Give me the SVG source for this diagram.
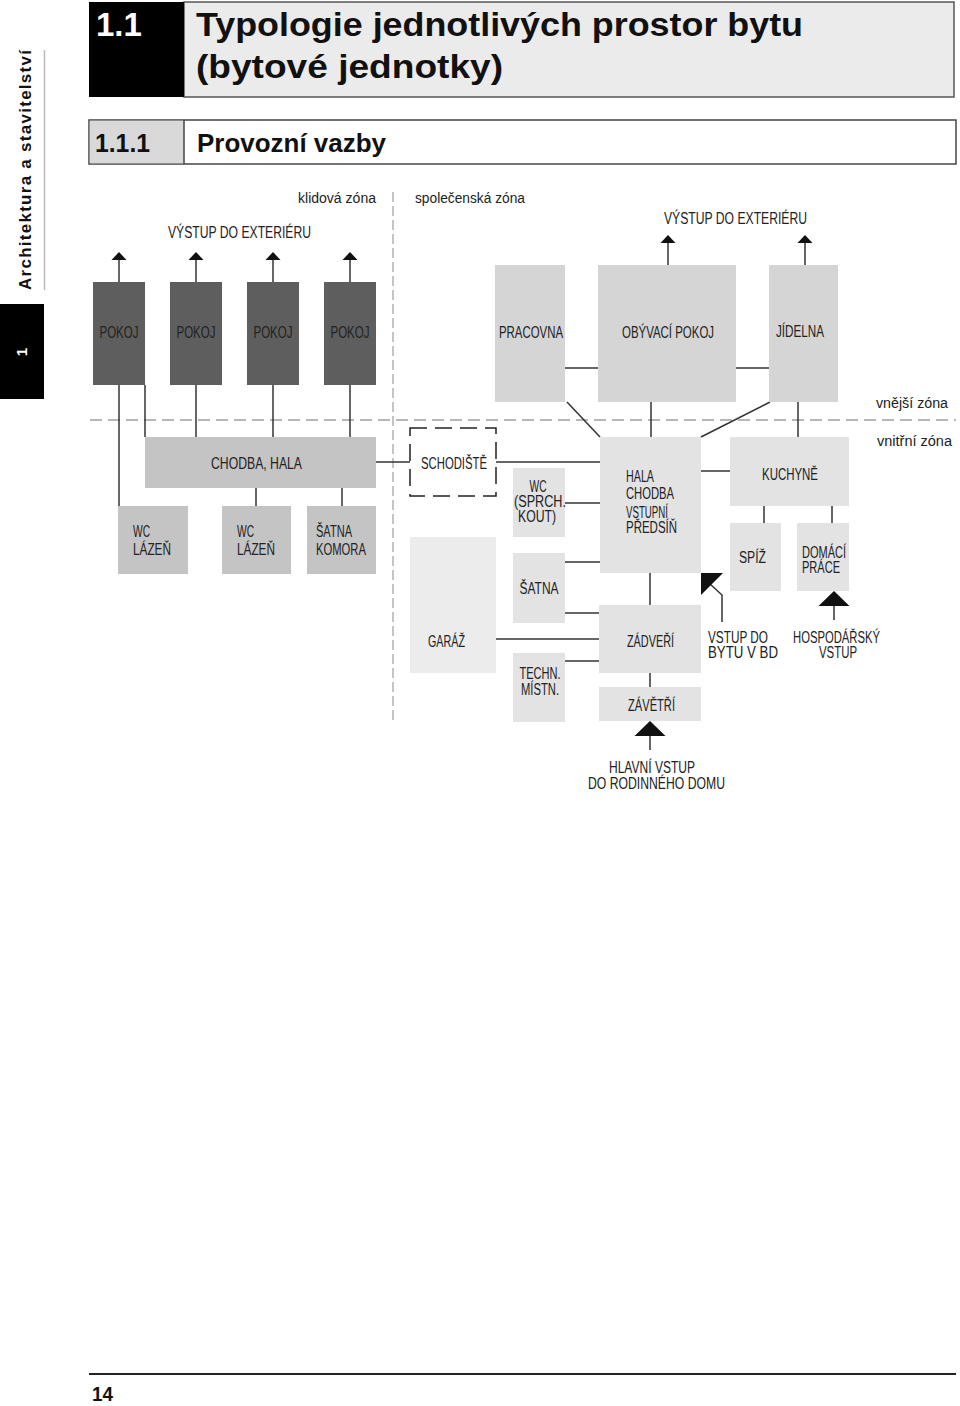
<svg xmlns="http://www.w3.org/2000/svg" width="960" height="1406" viewBox="0 0 960 1406">
<style>
.lb{font-family:"Liberation Sans Narrow","Liberation Sans",Arial,sans-serif;font-size:16px;fill:#222}
.zn{font-family:"Liberation Sans","DejaVu Sans",sans-serif;font-size:14px;fill:#222}
.ct{text-anchor:middle}
.dk{fill:#5e5e5e}
.md{fill:#c4c4c4}
.lt{fill:#d5d5d5}
.vl{fill:#e3e3e3}
.xl{fill:#ececec}
.cn{fill:none;stroke:#333;stroke-width:1.5}
.hd{font-family:"Liberation Sans",Arial,sans-serif;font-weight:bold;fill:#111}
</style>
<defs>
<marker id="ah" markerUnits="userSpaceOnUse" viewBox="0 -8 9 16" markerWidth="9" markerHeight="16" refX="0" refY="0" orient="auto">
<path d="M0,-7.5 L8,0 L0,7.5 Z" fill="#111"/>
</marker>
<marker id="ahb" markerUnits="userSpaceOnUse" viewBox="0 -16 16 32" markerWidth="16" markerHeight="32" refX="0" refY="0" orient="auto">
<path d="M0,-15.5 L15,0 L0,15.5 Z" fill="#111"/>
</marker>
</defs>
<rect width="960" height="1406" fill="#fff"/>

<g id="header">
<rect x="184" y="2" width="770" height="95" fill="#ebebeb" stroke="#555" stroke-width="1.5"/>
<rect x="89" y="2" width="95" height="95" fill="#000"/>
<text x="96" y="36" class="hd" font-size="33" style="fill:#fff">1.1</text>
<text x="196" y="36" class="hd" font-size="33" textLength="607" lengthAdjust="spacingAndGlyphs">Typologie jednotlivých prostor bytu</text>
<text x="196" y="78" class="hd" font-size="33" textLength="307" lengthAdjust="spacingAndGlyphs">(bytové jednotky)</text>
<rect x="89" y="120" width="867" height="44" fill="#fff" stroke="#444" stroke-width="1.5"/>
<rect x="89.75" y="120.75" width="94.25" height="42.5" fill="#d9d9d9"/>
<line x1="184" y1="120" x2="184" y2="164" stroke="#444" stroke-width="1.5"/>
<text x="95" y="152" class="hd" font-size="26" textLength="55" lengthAdjust="spacingAndGlyphs">1.1.1</text>
<text x="197" y="152" class="hd" font-size="26" textLength="189" lengthAdjust="spacingAndGlyphs">Provozní vazby</text>
</g>

<g id="sidebar">
<line x1="44.5" y1="50" x2="44.5" y2="290" stroke="#bbb" stroke-width="1.5"/>
<text transform="translate(31,290) rotate(-90)" class="hd" font-size="17" textLength="240" lengthAdjust="spacing">Architektura a stavitelství</text>
<rect x="0" y="304" width="44" height="95" fill="#000"/>
<text transform="translate(27,352) rotate(-90)" class="hd ct" font-size="15" style="fill:#fff">1</text>
</g>

<g id="zones">
<line x1="90" y1="420" x2="956" y2="420" stroke="#a0a0a0" stroke-width="1.6" stroke-dasharray="12 6"/>
<line x1="393" y1="192" x2="393" y2="723" stroke="#8a8a8a" stroke-width="1" stroke-dasharray="10 4"/>
<text x="298" y="203" class="zn" textLength="78" lengthAdjust="spacingAndGlyphs">klidová  zóna</text>
<text x="415" y="203" class="zn" textLength="110" lengthAdjust="spacingAndGlyphs">společenská  zóna</text>
<text x="876" y="408" class="zn" textLength="72" lengthAdjust="spacingAndGlyphs">vnější  zóna</text>
<text x="877" y="446" class="zn" textLength="75" lengthAdjust="spacingAndGlyphs">vnitřní  zóna</text>
</g>

<g id="connectors">
<path class="cn" d="M119,282 V260" marker-end="url(#ah)"/>
<path class="cn" d="M196,282 V260" marker-end="url(#ah)"/>
<path class="cn" d="M273,282 V260" marker-end="url(#ah)"/>
<path class="cn" d="M350,282 V260" marker-end="url(#ah)"/>
<path class="cn" d="M668,265 V243" marker-end="url(#ah)"/>
<path class="cn" d="M805,265 V243" marker-end="url(#ah)"/>
<path class="cn" d="M119,385 V506"/>
<path class="cn" d="M145,385 V437"/>
<path class="cn" d="M196,385 V437"/>
<path class="cn" d="M273,385 V437"/>
<path class="cn" d="M350,385 V437"/>
<path class="cn" d="M256,488 V506"/>
<path class="cn" d="M342,488 V506"/>
<path class="cn" d="M376,462 H410"/>
<path class="cn" d="M496,462 H600"/>
<path class="cn" d="M565,503 H600"/>
<path class="cn" d="M565,562 H600"/>
<path class="cn" d="M565,613 H599"/>
<path class="cn" d="M496,639 H599"/>
<path class="cn" d="M565,661 H599"/>
<path class="cn" d="M650,573 V605"/>
<path class="cn" d="M650,673 V687"/>
<path class="cn" d="M650,750 V736" marker-end="url(#ahb)"/>
<path class="cn" d="M565,368 H598"/>
<path class="cn" d="M736,368 H769"/>
<path class="cn" d="M567,402 L600,437"/>
<path class="cn" d="M651,402 V437"/>
<path class="cn" d="M770,402 L701,437"/>
<path class="cn" d="M798,402 V437"/>
<path class="cn" d="M701,471 H730"/>
<path class="cn" d="M764,506 V523"/>
<path class="cn" d="M832,506 V523"/>
<path class="cn" d="M834,620 V606" marker-end="url(#ahb)"/>
<path class="cn" d="M722,622 V595 L710,584"/>
<polygon points="701,573 723,573 701,595" fill="#111"/>
<text x="168" y="238" class="lb" textLength="143" lengthAdjust="spacingAndGlyphs">VÝSTUP  DO  EXTERIÉRU</text>
<text x="664" y="224" class="lb" textLength="143" lengthAdjust="spacingAndGlyphs">VÝSTUP  DO  EXTERIÉRU</text>
<text x="609" y="773" class="lb" textLength="86" lengthAdjust="spacingAndGlyphs">HLAVNÍ  VSTUP</text>
<text x="588" y="789" class="lb" textLength="137" lengthAdjust="spacingAndGlyphs">DO  RODINNÉHO  DOMU</text>
<text x="708" y="643" class="lb" textLength="60" lengthAdjust="spacingAndGlyphs">VSTUP  DO</text>
<text x="708" y="658" class="lb" textLength="70" lengthAdjust="spacingAndGlyphs">BYTU  V  BD</text>
<text x="793" y="643" class="lb" textLength="87" lengthAdjust="spacingAndGlyphs">HOSPODÁŘSKÝ</text>
<text x="838" y="658" class="lb ct" textLength="38" lengthAdjust="spacingAndGlyphs">VSTUP</text>
</g>

<g id="pokoj1"><rect class="dk" x="93" y="282" width="52" height="103"/><text x="119" y="338" class="lb ct" textLength="39" lengthAdjust="spacingAndGlyphs">POKOJ</text></g>
<g id="pokoj2"><rect class="dk" x="170" y="282" width="52" height="103"/><text x="196" y="338" class="lb ct" textLength="39" lengthAdjust="spacingAndGlyphs">POKOJ</text></g>
<g id="pokoj3"><rect class="dk" x="247" y="282" width="52" height="103"/><text x="273" y="338" class="lb ct" textLength="39" lengthAdjust="spacingAndGlyphs">POKOJ</text></g>
<g id="pokoj4"><rect class="dk" x="324" y="282" width="52" height="103"/><text x="350" y="338" class="lb ct" textLength="39" lengthAdjust="spacingAndGlyphs">POKOJ</text></g>

<g id="pracovna"><rect class="lt" x="495" y="265" width="70" height="137"/><text x="531" y="338" class="lb ct" textLength="64" lengthAdjust="spacingAndGlyphs">PRACOVNA</text></g>
<g id="obyvaci"><rect class="lt" x="598" y="265" width="138" height="137"/><text x="668" y="338" class="lb ct" textLength="92" lengthAdjust="spacingAndGlyphs">OBÝVACÍ  POKOJ</text></g>
<g id="jidelna"><rect class="lt" x="769" y="265" width="69" height="137"/><text x="800" y="337" class="lb ct" textLength="48" lengthAdjust="spacingAndGlyphs">JÍDELNA</text></g>

<g id="chodba"><rect class="md" x="145" y="437" width="231" height="51"/><text x="211" y="469" class="lb" textLength="91" lengthAdjust="spacingAndGlyphs">CHODBA,  HALA</text></g>
<g id="wc1"><rect class="md" x="118" y="506" width="70" height="68"/><text x="133" y="537" class="lb" textLength="17" lengthAdjust="spacingAndGlyphs">WC</text><text x="133" y="555" class="lb" textLength="38" lengthAdjust="spacingAndGlyphs">LÁZEŇ</text></g>
<g id="wc2"><rect class="md" x="222" y="506" width="69" height="68"/><text x="237" y="537" class="lb" textLength="17" lengthAdjust="spacingAndGlyphs">WC</text><text x="237" y="555" class="lb" textLength="38" lengthAdjust="spacingAndGlyphs">LÁZEŇ</text></g>
<g id="satna-komora"><rect class="md" x="307" y="506" width="69" height="68"/><text x="316" y="537" class="lb" textLength="36" lengthAdjust="spacingAndGlyphs">ŠATNA</text><text x="316" y="555" class="lb" textLength="50" lengthAdjust="spacingAndGlyphs">KOMORA</text></g>

<g id="schodiste"><rect x="410" y="428" width="86" height="68" fill="none" stroke="#222" stroke-width="1.5" stroke-dasharray="17 8"/><text x="421" y="469" class="lb" textLength="66" lengthAdjust="spacingAndGlyphs">SCHODIŠTĚ</text></g>
<g id="wc-sprch"><rect class="vl" x="513" y="468" width="52" height="69"/><text x="538" y="492" class="lb ct" textLength="17" lengthAdjust="spacingAndGlyphs">WC</text><text x="540" y="507" class="lb ct" textLength="52" lengthAdjust="spacingAndGlyphs">(SPRCH.</text><text x="537" y="522" class="lb ct" textLength="38" lengthAdjust="spacingAndGlyphs">KOUT)</text></g>
<g id="satna"><rect class="vl" x="513" y="553" width="52" height="70"/><text x="539" y="594" class="lb ct" textLength="39" lengthAdjust="spacingAndGlyphs">ŠATNA</text></g>
<g id="garaz"><rect class="xl" x="410" y="537" width="86" height="136"/><text x="428" y="647" class="lb" textLength="37" lengthAdjust="spacingAndGlyphs">GARÁŽ</text></g>
<g id="techn"><rect class="vl" x="513" y="653" width="52" height="69"/><text x="540" y="679" class="lb ct" textLength="41" lengthAdjust="spacingAndGlyphs">TECHN.</text><text x="540" y="695" class="lb ct" textLength="38" lengthAdjust="spacingAndGlyphs">MÍSTN.</text></g>

<g id="hala"><rect class="vl" x="600" y="437" width="101" height="136"/>
<text x="626" y="482" class="lb" textLength="28" lengthAdjust="spacingAndGlyphs">HALA</text>
<text x="626" y="499" class="lb" textLength="48" lengthAdjust="spacingAndGlyphs">CHODBA</text>
<text x="626" y="518" class="lb" textLength="42" lengthAdjust="spacingAndGlyphs">VSTUPNÍ</text>
<text x="626" y="533" class="lb" textLength="51" lengthAdjust="spacingAndGlyphs">PŘEDSÍŇ</text></g>
<g id="kuchyne"><rect class="vl" x="730" y="437" width="119" height="69"/><text x="762" y="480" class="lb" textLength="56" lengthAdjust="spacingAndGlyphs">KUCHYNĚ</text></g>
<g id="spiz"><rect class="vl" x="730" y="523" width="51" height="68"/><text x="739" y="563" class="lb" textLength="27" lengthAdjust="spacingAndGlyphs">SPÍŽ</text></g>
<g id="domaci-prace"><rect class="vl" x="797" y="523" width="52" height="68"/><text x="802" y="558" class="lb" textLength="44" lengthAdjust="spacingAndGlyphs">DOMÁCÍ</text><text x="802" y="573" class="lb" textLength="38" lengthAdjust="spacingAndGlyphs">PRÁCE</text></g>
<g id="zadveri"><rect class="vl" x="599" y="605" width="102" height="68"/><text x="627" y="647" class="lb" textLength="47" lengthAdjust="spacingAndGlyphs">ZÁDVEŘÍ</text></g>
<g id="zavetri"><rect class="vl" x="599" y="687" width="102" height="34"/><text x="628" y="711" class="lb" textLength="47" lengthAdjust="spacingAndGlyphs">ZÁVĚTŘÍ</text></g>

<g id="footer">
<line x1="89" y1="1374" x2="956" y2="1374" stroke="#222" stroke-width="2"/>
<text x="92" y="1401" class="hd" font-size="20" textLength="21" lengthAdjust="spacingAndGlyphs">14</text>
</g>
</svg>
